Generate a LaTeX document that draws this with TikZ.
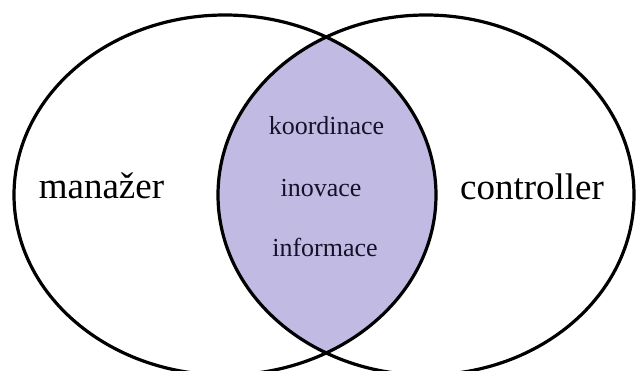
\documentclass[tikz,border=0pt]{standalone}
\usepackage{fontspec}
\setmainfont{Liberation Serif}
\definecolor{lensfill}{RGB}{193,186,227}
\definecolor{lenstext}{RGB}{20,18,40}
\tikzset{
  ring/.style={draw=black, line width=3.2pt},
  biglabel/.style={inner sep=0pt, anchor=base, font=\fontsize{37}{40}\selectfont},
  smalllabel/.style={inner sep=0pt, anchor=base, text=lenstext, font=\fontsize{26}{30}\selectfont}
}
\begin{document}
\begin{tikzpicture}[x=1pt, y=-1pt]
  \useasboundingbox (0,0) rectangle (640,371);
  \clip (0,0) rectangle (640,371);
  % shared region of the two sets
  \begin{scope}
    \clip (225,195) ellipse [x radius=211, y radius=180];
    \fill[lensfill] (426,195) ellipse [x radius=208, y radius=180];
  \end{scope}
  % the two sets
  \draw[ring] (225,195) ellipse [x radius=211, y radius=180];
  \draw[ring] (426,195) ellipse [x radius=208, y radius=180];
  % labels
  \node[biglabel] (man) at (101.5,199) {manažer};
  \node[biglabel] (ctl) at (532,200) {controller};
  \node[smalllabel] (koo) at (326.5,135) {koordinace};
  \node[smalllabel] (ino) at (321,197) {inovace};
  \node[smalllabel] (inf) at (325,257) {informace};
\end{tikzpicture}
\end{document}
